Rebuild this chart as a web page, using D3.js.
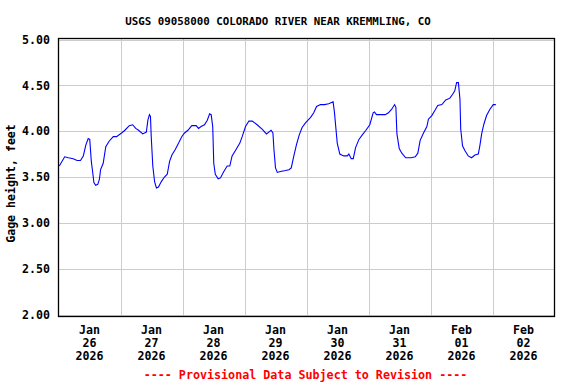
<!DOCTYPE html>
<html>
<head>
<meta charset="utf-8">
<script src="https://cdn.jsdelivr.net/npm/d3@7"></script>
<style>
  body { margin: 0; background: #fff; }
  svg { display: block; font-family: "DejaVu Sans Mono", monospace; font-weight: bold; }
  .grid line { stroke: #cccccc; stroke-width: 1; }
  .tick-label { font-size: 11.6px; fill: #000; }
</style>
</head>
<body>
<svg id="chart"></svg>
<script>
// gage height readings, hours since Jan 26 2026 00:00
const hoursFromStart = [
  0.3, 2.4, 3.8, 5.7, 7.2, 8.5, 9.6, 10.6, 11.5, 12.1, 12.7, 13.2, 13.7, 14.4, 15.2, 15.8,
  16.3, 17.3, 18.3, 19.6, 21.2, 22.5, 24.4, 25.7, 27.4, 28.7, 29.9, 31.0, 32.6, 34.0, 34.6,
  35.2, 35.6, 35.9, 36.5, 37.2, 37.9, 38.7, 39.8, 41.0, 42.1, 43.0, 43.9, 45.2, 46.5, 47.7,
  48.8, 50.1, 51.6, 53.3, 54.2, 55.2, 56.5, 57.6, 58.5, 59.1, 59.7, 60.1, 60.7, 61.8, 62.7,
  64.0, 65.3, 66.3, 67.2, 68.5, 70.2, 71.1, 72.4, 73.7, 75.0, 76.9, 78.9, 80.5, 81.4, 82.3,
  83.0, 83.4, 84.0, 84.7, 85.9, 87.9, 89.2, 90.1, 91.1, 92.1, 93.2, 94.3, 95.6, 97.6, 98.8,
  99.9, 101.4, 103.0, 104.6, 106.3, 106.8, 107.9, 108.9, 110.4, 111.8, 112.4, 113.3, 114.1,
  115.0, 116.3, 117.6, 119.0, 120.5, 121.8, 122.3, 123.1, 124.7, 126.5, 127.7, 129.0, 130.1,
  130.6, 131.0, 131.9, 132.9, 134.4, 136.5, 138.1, 139.1, 140.0, 141.3, 142.6, 143.2, 144.5,
  145.8, 146.8, 148.4, 149.9, 151.5, 152.5, 153.4, 154.1, 154.8, 155.4, 155.7, 156.4, 157.3,
  158.6, 159.9, 161.2, 162.5, 163.1, 163.8, 164.6, 165.7, 167.0, 168.3, 169.3
];
const gageHeight = [
  3.62, 3.72, 3.71, 3.70, 3.68, 3.68, 3.73, 3.85, 3.92, 3.91, 3.67, 3.56, 3.44, 3.41, 3.42, 3.47,
  3.58, 3.65, 3.83, 3.89, 3.94, 3.94, 3.98, 4.01, 4.06, 4.07, 4.03, 4.01, 3.97, 3.99, 4.12,
  4.18, 4.16, 3.94, 3.62, 3.45, 3.38, 3.39, 3.45, 3.50, 3.53, 3.67, 3.74, 3.80, 3.87, 3.94,
  3.98, 4.01, 4.06, 4.06, 4.03, 4.05, 4.07, 4.12, 4.19, 4.18, 4.05, 3.65, 3.53, 3.48, 3.49,
  3.56, 3.62, 3.62, 3.73, 3.79, 3.87, 3.94, 4.05, 4.11, 4.11, 4.07, 4.02, 3.97, 3.99, 4.01,
  3.98, 3.80, 3.60, 3.55, 3.56, 3.57, 3.58, 3.60, 3.73, 3.85, 3.96, 4.04, 4.09, 4.15, 4.20,
  4.27, 4.29, 4.29, 4.30, 4.32, 4.21, 3.87, 3.75, 3.73, 3.73, 3.75, 3.70, 3.70,
  3.82, 3.91, 3.96, 4.01, 4.07, 4.20, 4.21, 4.18, 4.18, 4.18, 4.20, 4.24, 4.29,
  4.26, 3.97, 3.81, 3.76, 3.71, 3.71, 3.72, 3.76, 3.90, 3.98, 4.05, 4.13, 4.17,
  4.23, 4.28, 4.29, 4.34, 4.36, 4.40, 4.44, 4.53, 4.53, 4.35, 4.02, 3.84, 3.79,
  3.73, 3.71, 3.74, 3.75, 3.84, 3.97, 4.07, 4.17, 4.24, 4.29, 4.29
];
const tickMonths = ['Jan', 'Jan', 'Jan', 'Jan', 'Jan', 'Jan', 'Feb', 'Feb'];
const tickDays = ['26', '27', '28', '29', '30', '31', '01', '02'];
const tickYears = ['2026', '2026', '2026', '2026', '2026', '2026', '2026', '2026'];
const yTicks = [2.0, 2.5, 3.0, 3.5, 4.0, 4.5, 5.0];

const startTime = Date.UTC(2026, 0, 26);
const data = hoursFromStart.map((h, i) => ({ t: new Date(startTime + h * 3600e3), v: gageHeight[i] }));

const width = 576, height = 384;
const svg = d3.select('#chart').attr('width', width).attr('height', height);

const x = d3.scaleUtc()
  .domain([new Date(startTime), new Date(Date.UTC(2026, 1, 3))])
  .range([58.5, 554.5]);
const y = d3.scaleLinear().domain([2, 5]).range([314.5, 39.5]);

// grid
const dayTicks = d3.utcDay.range(new Date(startTime), new Date(Date.UTC(2026, 1, 3, 1)));
const grid = svg.append('g').attr('class', 'grid');
grid.selectAll('.vgrid')
  .data(dayTicks.slice(1, -1))
  .join('line')
  .attr('x1', d => Math.round(x(d)) + 0.5).attr('x2', d => Math.round(x(d)) + 0.5)
  .attr('y1', 38).attr('y2', 316);
grid.selectAll('.hgrid')
  .data(yTicks)
  .join('line')
  .attr('x1', 59).attr('x2', 554)
  .attr('y1', d => Math.round(y(d)) + 0.5).attr('y2', d => Math.round(y(d)) + 0.5);

// frame
svg.append('rect')
  .attr('x', 58.5).attr('y', 38.5)
  .attr('width', 496).attr('height', 278)
  .attr('fill', 'none').attr('stroke', '#000').attr('stroke-width', 1.3);

// line
const line = d3.line().x(d => x(d.t)).y(d => y(d.v));
svg.append('path')
  .datum(data)
  .attr('d', line)
  .attr('fill', 'none')
  .attr('stroke', '#0000ff')
  .attr('stroke-width', 1.1);

// y axis labels
svg.selectAll('.ylab')
  .data(yTicks)
  .join('text')
  .attr('class', 'tick-label')
  .attr('x', 50)
  .attr('y', d => y(d) + 4.3)
  .attr('text-anchor', 'end')
  .text(d => d3.format('.2f')(d));

// x axis labels, centred on noon of each day
const xLab = svg.selectAll('.xlab')
  .data(tickDays)
  .join('text')
  .attr('class', 'tick-label')
  .attr('text-anchor', 'middle');
xLab.each(function (d, i) {
  const cx = x(new Date(startTime + (i + 0.5) * 86400e3));
  const t = d3.select(this);
  t.append('tspan').attr('x', cx).attr('y', 334).text(tickMonths[i]);
  t.append('tspan').attr('x', cx).attr('y', 347).text(tickDays[i]);
  t.append('tspan').attr('x', cx).attr('y', 360).text(tickYears[i]);
});

// titles
svg.append('text')
  .attr('x', 278).attr('y', 24.5)
  .attr('text-anchor', 'middle')
  .style('font-size', '10.8px')
  .text('USGS 09058000 COLORADO RIVER NEAR KREMMLING, CO');

svg.append('text')
  .attr('transform', 'translate(15,183.5) rotate(-90)')
  .attr('text-anchor', 'middle')
  .style('font-size', '11.6px')
  .text('Gage height, feet');

svg.append('text')
  .attr('x', 305.5).attr('y', 378.5)
  .attr('text-anchor', 'middle')
  .attr('fill', '#ff0000')
  .style('font-size', '11.7px')
  .text('---- Provisional Data Subject to Revision ----');
</script>
</body>
</html>
